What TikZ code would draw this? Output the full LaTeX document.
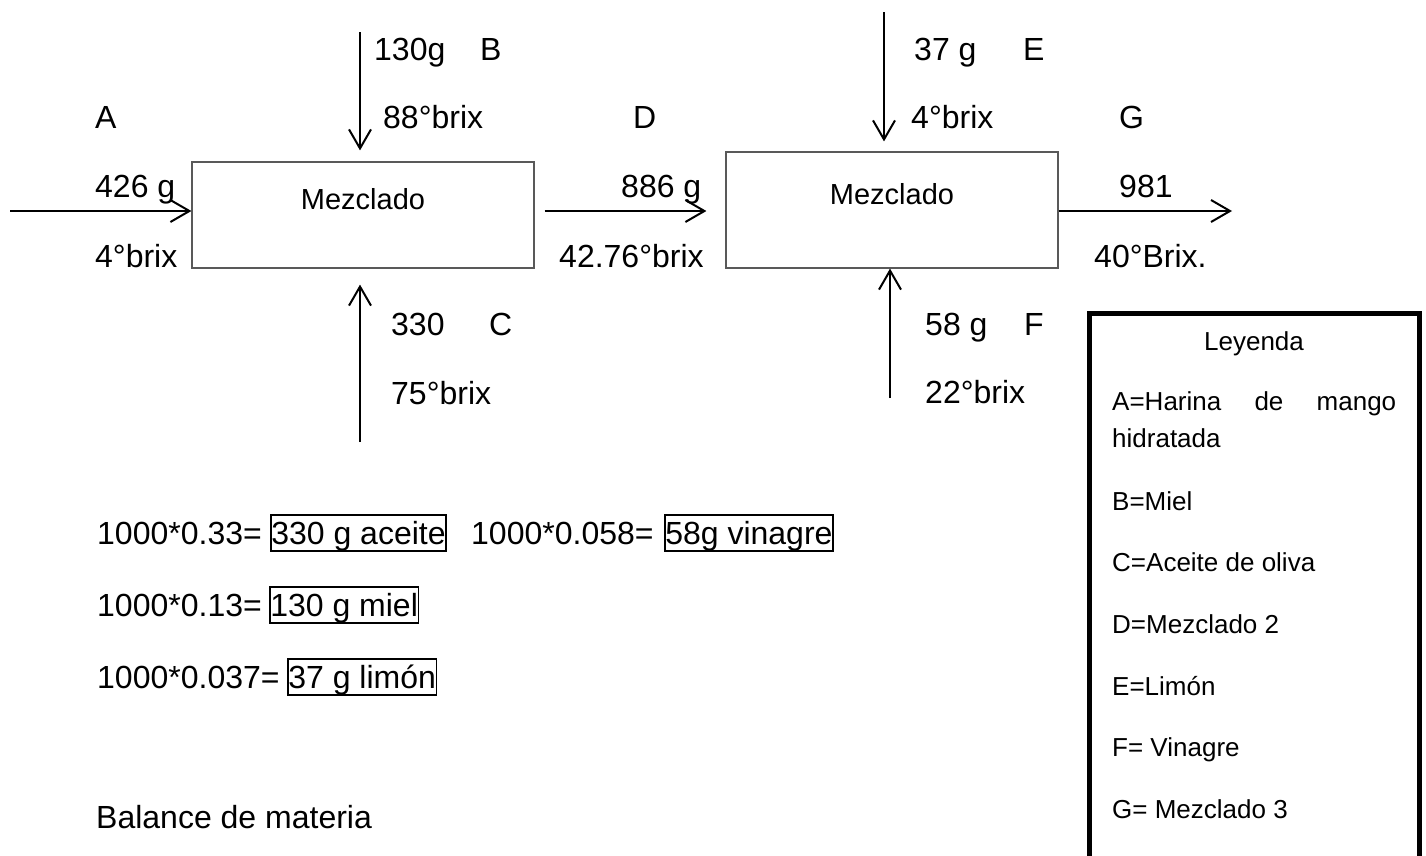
\documentclass[tikz,border=0pt]{standalone}
\usepackage{fontspec}
\setmainfont{Liberation Sans}
\usetikzlibrary{arrows.meta}

\tikzset{
  lbl/.style={anchor=base west, inner sep=0pt, font=\fontsize{32}{38}\selectfont},
  ley/.style={anchor=base west, inner sep=0pt, font=\fontsize{26}{37}\selectfont},
  mixbox/.style={draw=black!65, line width=1.2pt, font=\fontsize{29}{35}\selectfont,
                 text height=22pt, text depth=34pt},
  res/.style={draw, line width=1.6pt, anchor=base west, inner xsep=0.5pt, inner ysep=0pt,
              text height=29pt, text depth=7pt, font=\fontsize{32}{38}\selectfont},
  flow/.style={line width=2pt, -{Straight Barb[length=19pt,width=22pt]}},
}

\begin{document}
\begin{tikzpicture}[x=1pt, y=-1pt]
\useasboundingbox (0,0) rectangle (1426,855);

\node[mixbox, minimum width=342pt, minimum height=106pt] (mix1) at (363,215) {Mezclado};
\node[mixbox, minimum width=332pt, minimum height=116pt] (mix2) at (892,210) {Mezclado};

\coordinate (inA) at (10,211);
\coordinate (inB) at (360,32);
\coordinate (inC) at (360,442);
\coordinate (inE) at (884,12);
\coordinate (inF) at (890,398);
\coordinate (outG) at (1232,211);

\draw[flow] (inA) -- (inA -| mix1.west);
\draw[flow, shorten >=11pt] (inB) -- (inB |- mix1.north);
\draw[flow, shorten >=16pt] (inC) -- (inC |- mix1.south);
\draw[flow, shorten <=10pt, shorten >=19pt] (mix1.east |- inA) -- (mix2.west |- inA);
\draw[flow, shorten >=10pt] (inE) -- (inE |- mix2.north);
\draw[flow] (inF) -- (inF |- mix2.south);
\draw[flow] (mix2.east |- outG) -- (outG);

\node[lbl] (massB) at (374,60) {130g};
\node[lbl] (tagB) at (480,60) {B};
\node[lbl] (tagA) at (95,128) {A};
\node[lbl] (brixB) at (383,128) {88°brix};
\node[lbl] (tagD) at (633,128) {D};
\node[lbl] (massA) at (95,197) {426 g};
\node[lbl] (massD) at (621,197) {886 g};
\node[lbl] (brixA) at (95,267) {4°brix};
\node[lbl] (brixD) at (559,267) {42.76°brix};
\node[lbl] (massC) at (391,335) {330};
\node[lbl] (tagC) at (489,335) {C};
\node[lbl] (brixC) at (391,404) {75°brix};
\node[lbl] (massE) at (914,60) {37 g};
\node[lbl] (tagE) at (1023,60) {E};
\node[lbl] (brixE) at (911,128) {4°brix};
\node[lbl] (tagG) at (1119,128) {G};
\node[lbl] (massG) at (1119,197) {981};
\node[lbl] (brixG) at (1094,267) {40°Brix.};
\node[lbl] (massF) at (925,335) {58 g};
\node[lbl] (tagF) at (1024,335) {F};
\node[lbl] (brixF) at (925,403) {22°brix};

\node[draw, line width=5pt, anchor=north west, minimum width=330pt, minimum height=600pt]
      (leyenda) at (1087,311) {};
\node[anchor=base, inner sep=0pt, font=\fontsize{26}{37}\selectfont] (leyTitle) at (1254,350) {Leyenda};
\node[ley] (leyA) at (1112,410) {\makebox[284pt][s]{A=Harina de mango}};
\node[ley] (leyA2) at (1112,447) {hidratada};
\node[ley] (leyB) at (1112,510) {B=Miel};
\node[ley] (leyC) at (1112,571) {C=Aceite de oliva};
\node[ley] (leyD) at (1112,633) {D=Mezclado 2};
\node[ley] (leyE) at (1112,695) {E=Limón};
\node[ley] (leyF) at (1112,756) {F= Vinagre};
\node[ley] (leyG) at (1112,818) {G= Mezclado 3};

\node[lbl] (calc1) at (97,544) {1000*0.33=};
\node[res] (res1) at (270,544) {330 g aceite};
\node[lbl] (calc2) at (471,544) {1000*0.058=};
\node[res] (res2) at (664,544) {58g vinagre};
\node[lbl] (calc3) at (97,616) {1000*0.13=};
\node[res] (res3) at (269,616) {130 g miel};
\node[lbl] (calc4) at (97,688) {1000*0.037=};
\node[res] (res4) at (287,688) {37 g limón};
\node[lbl] (balance) at (96,828) {Balance de materia};
\end{tikzpicture}
\end{document}
